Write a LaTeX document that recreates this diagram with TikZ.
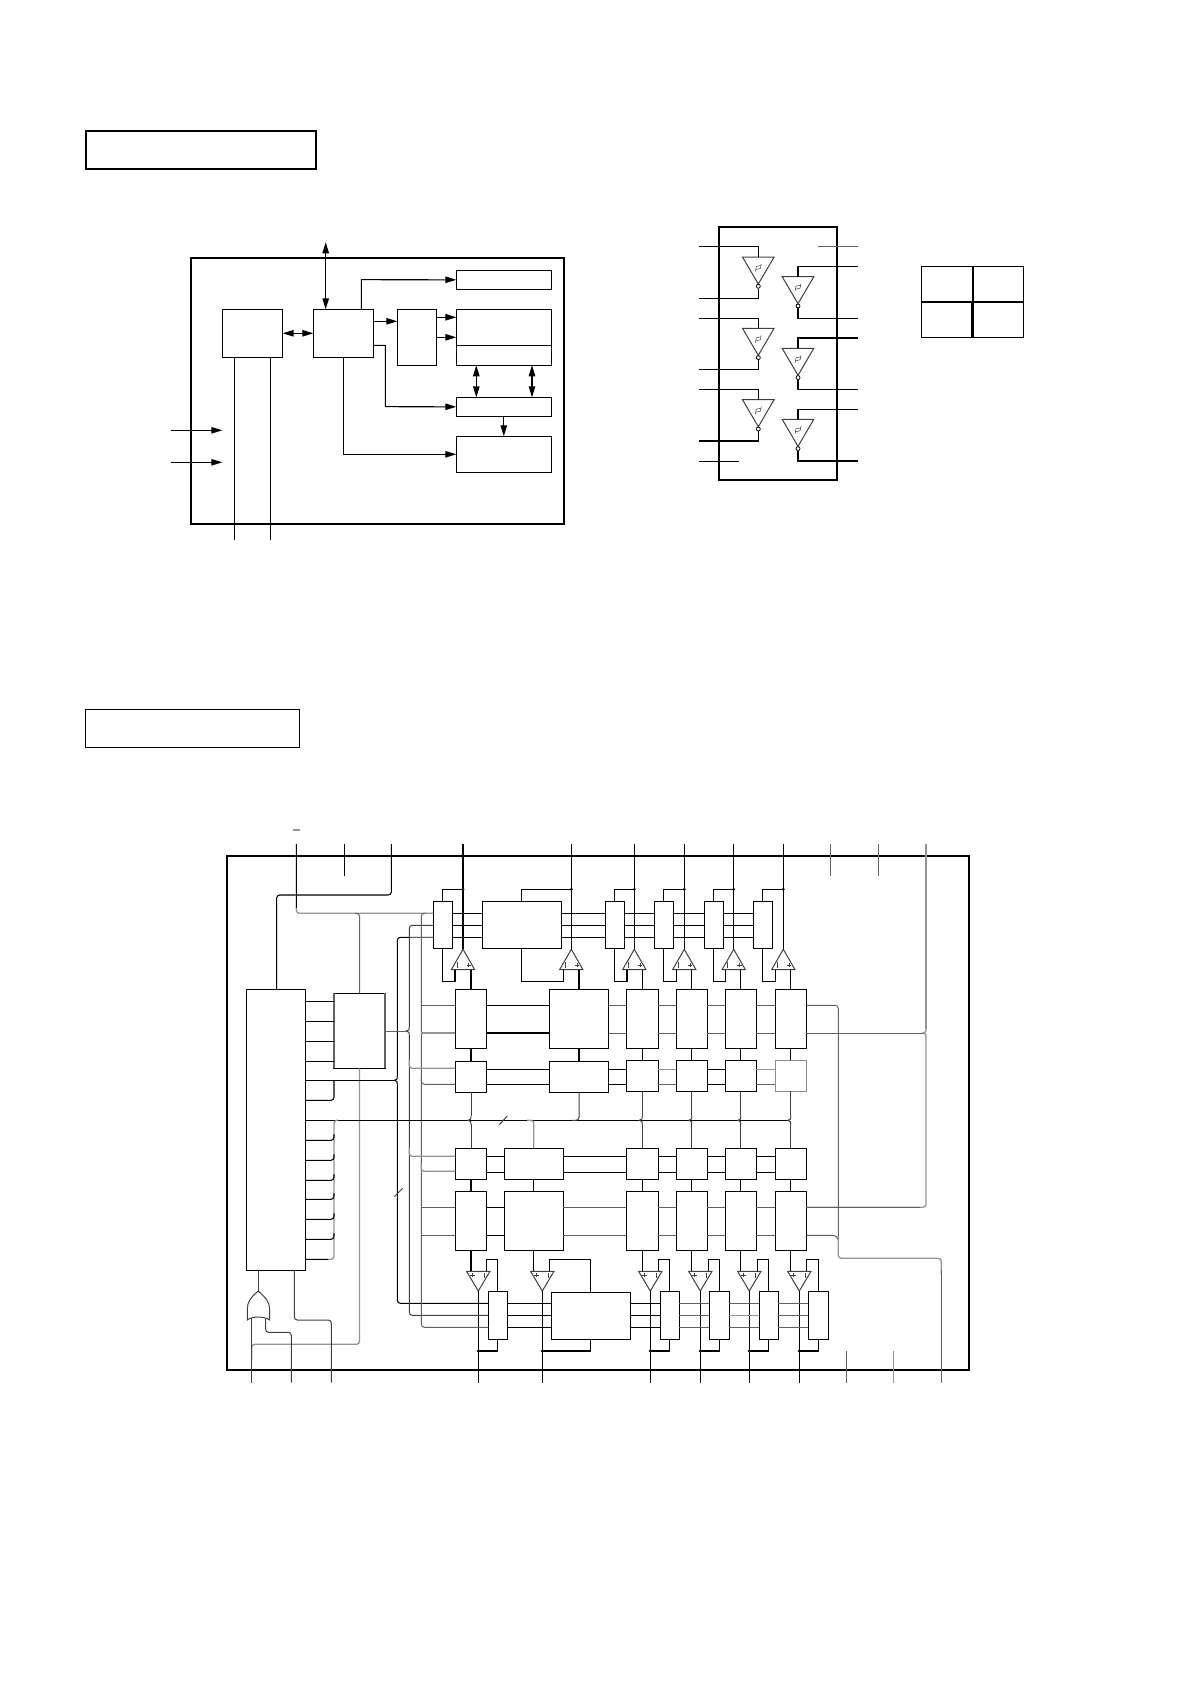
\documentclass[tikz,border=0pt]{standalone}
\usetikzlibrary{arrows.meta,calc}
\tikzset{
  boxs/.style={draw=black,line width=1.05pt,fill=none,inner sep=0pt,outer sep=0pt,rectangle},
  frame/.style={boxs,line width=2pt},
  wire/.style={draw=black,line width=1.05pt},
  dw/.style={draw=black!75,line width=1pt},
  gw/.style={draw=black!62,line width=1pt},
  lw/.style={draw=black!42,line width=1.3pt},
  rw/.style={rounded corners=3pt},
  arr/.style={wire,-{Triangle[length=11pt,width=6.5pt]}},
  biarr/.style={wire,{Triangle[length=11pt,width=6.5pt]}-{Triangle[length=11pt,width=6.5pt]}},
  sym/.style={draw=black!75,line width=0.5pt},
  junct/.style={fill=black},
}
\newcommand\bx[6][]{\node[boxs,#1,minimum width={(#5-#3)*1pt},minimum height={(#6-#4)*1pt}] (#2) at ({(#3+#5)/2},{(#4+#6)/2}) {};}
% inverter: name, tip x, top y, input y, output y, input/output stub x
\newcommand\invg[6]{%
  \coordinate (#1-in) at (#2,#3);
  \coordinate (#1-out) at (#2,#3+31.5);
  \draw[dw] (#1-in) ++(-15.8,0) -- ++(31.6,0) -- ($(#1-in)+(0,27)$) -- cycle;
  \draw[wire,line width=0.8pt] ($(#1-in)+(0,29.3)$) circle (2pt);
  \draw[wire] (#1-in) -- (#2,#4) -- (#6,#4);
  \draw[wire] (#1-out) -- (#2,#5) -- (#6,#5);
  \draw[sym] (#2-3,#3+14.5) -- (#2-2,#3+9.5) -- (#2+2.5,#3+8.5) (#2-2.5,#3+12.5) -- (#2+2,#3+11.5) -- (#2+3,#3+7);
}
% op amps
\newcommand\opup[2]{%
  \coordinate (#1-t) at (#2,949.3);
  \draw[dw] (#2,949.3) -- (#2+11.7,969.7) -- (#2-11.7,969.7) -- cycle;
  \draw[sym] (#2-6,962) -- (#2-6,967.5) (#2+3.5,965) -- (#2+8,965) (#2+5.7,962.7) -- (#2+5.7,967.3);
}
\newcommand\opdn[2]{%
  \coordinate (#1-t) at (#2,1291);
  \draw[dw] (#2,1291) -- (#2+11.7,1271.3) -- (#2-11.7,1271.3) -- cycle;
  \draw[sym] (#2+6,1272.5) -- (#2+6,1277.5) (#2-8,1275) -- (#2-3.5,1275) (#2-5.7,1272.7) -- (#2-5.7,1277.3);
}
% brace tick on a vertical wire, pointing left
\newcommand\brc[3][wire]{\draw[#1] (#2,#3-4) .. controls (#2,#3-1) .. (#2-3,#3) .. controls (#2,#3+1) .. (#2,#3+4);}
\begin{document}
\begin{tikzpicture}[x=1pt,y=-1pt]
\useasboundingbox (0,0) rectangle (1190,1684);
\fill[white] (0,0) rectangle (1190,1684);
% ---------- titles
\bx[line width=1.7pt]{title1}{85.7}{131}{316.2}{169}
\bx[line width=1.2pt]{title2}{85.7}{709.3}{299.3}{747.3}
% ---------- block diagram
\bx[frame]{fA}{190.7}{257.7}{564}{523.7}
\bx{A}{222.3}{309.3}{282.7}{357.3}
\bx{B}{313.3}{309.3}{373.3}{357.3}
\bx{C}{397.3}{309.3}{436.3}{365.3}
\bx{D}{456.3}{270.3}{551.3}{289.3}
\bx{E}{456.3}{309.3}{551.3}{365.3}
\bx{F}{456.3}{397.3}{551.3}{416.3}
\bx{G}{456.3}{436.3}{551.3}{472.3}
\draw[wire] (E.west |- 0,345.3) -- (E.east |- 0,345.3);
\coordinate (btop) at (325.7,242.3);
\draw[biarr] (btop) -- (btop |- B.north);
\draw[arr] (B.north -| 361.3,0) -- (361.3,279.7) -- (D.west);
\draw[biarr] (A.east) -- (B.west);
\draw[arr] (B.east |- 0,321.3) -- (C.west |- 0,321.3);
\draw[arr] (C.east |- 0,317.3) -- (E.west |- 0,317.3);
\draw[arr] (C.east |- 0,337.3) -- (E.west |- 0,337.3);
\draw[arr] (B.east |- 0,345.3) -- (385.3,345.3) -- (385.3,406.7) -- (F.west);
\draw[arr] (B.south) -- (343.3,454.3) -- (G.west);
\draw[biarr] (E.south -| 476.3,0) -- (F.north -| 476.3,0);
\draw[biarr] (E.south -| 532,0) -- (F.north -| 532,0);
\draw[arr] (F.south) -- (G.north);
\coordinate (inA) at (170.7,430.3);
\coordinate (inB) at (170.7,462.3);
\draw[arr] (inA) -- (A.west |- inA);
\draw[arr] (inB) -- (A.west |- inB);
\coordinate (o1) at (234.3,539.7);
\coordinate (o2) at (270.3,539.7);
\draw[wire] (A.south -| o1) -- (o1);
\draw[wire] (A.south -| o2) -- (o2);
% ---------- hex inverter
\bx[frame]{fI}{719}{226.7}{836.7}{479.7}
\invg{i1}{758.3}{257}{246.3}{298.3}{699}
\invg{i2}{758.3}{328.3}{318.3}{369.7}{699}
\invg{i3}{758.3}{399.7}{389.3}{441}{699}
\invg{i4}{798}{276.7}{266.3}{318.3}{858}
\invg{i5}{798}{348.3}{338}{389.3}{858}
\invg{i6}{798}{419.3}{409.3}{461}{858}
\coordinate (s1) at (699,461.3); \coordinate (s1e) at (738.7,461.3);
\coordinate (s2) at (858,246.3); \coordinate (s2e) at (818,246.3);
\draw[wire] (s1) -- (s1e);
\draw[gw] (s2) -- (s2e);
% ---------- truth table
\bx{tab}{921.3}{266.3}{1023.3}{337.3}
\draw[line width=1.7pt] (tab.north -| 972.7,0) -- (972.7,301.7);
\draw[line width=2.8pt] (972.7,301.7) -- (tab.south -| 972.7,0);
\draw[line width=1.6pt] (tab.west |- 0,301.7) -- (tab.east |- 0,301.7);
% ---------- main schematic
\bx[frame]{fM}{227}{855.7}{969.3}{1369.7}
\bx{ctl}{246.3}{989.3}{305.7}{1270.3}
\bx{dec}{334}{993.3}{385}{1068.3}
\draw[gw,line width=1.2pt] (dec.north west) -- (dec.south west) (dec.north east) -- (dec.south east);
% top row
\bx{S1}{433.3}{901.3}{452.3}{948.3}
\bx{S2}{482.3}{901.3}{561.3}{948.3}
\bx{S3}{605.3}{901.3}{624.3}{948.3}
\bx{S4}{654.3}{901.3}{673.3}{948.3}
\bx{S5}{704.3}{901.3}{723.3}{948.3}
\bx{S6}{753.3}{901.3}{772.3}{948.3}
% rows
\bx{R1}{455.3}{989.3}{486.7}{1048.3}
\bx{R2}{549.3}{989.3}{608.7}{1048.3}
\bx{R3}{626.3}{989.3}{658.3}{1048.3}
\bx{R4}{676.3}{989.3}{707.3}{1048.3}
\bx{R5}{725.3}{989.3}{756.3}{1048.3}
\bx{R6}{775.3}{989.3}{806.3}{1048.3}
\bx{Q1}{455.3}{1061.3}{486.7}{1092.3}
\bx{Q2}{549.3}{1061.3}{608.7}{1092.3}
\bx{Q3}{626.3}{1060.3}{658.3}{1091.3}
\bx{Q4}{676.3}{1060.3}{707.3}{1091.3}
\bx{Q5}{725.3}{1060.3}{756.3}{1091.3}
\bx[draw=black!45]{Q6}{775.3}{1060.3}{806.3}{1091.3}
\bx{L1}{455.3}{1148.3}{486.7}{1179.3}
\bx{L2}{504.3}{1148.3}{563.3}{1179.3}
\bx{L3}{626.3}{1148.3}{658.3}{1179.3}
\bx{L4}{676.3}{1148.3}{707.3}{1179.3}
\bx{L5}{725.3}{1148.3}{756.3}{1179.3}
\bx{L6}{775.3}{1148.3}{806.3}{1179.3}
\bx{M1}{455.3}{1191.3}{486.7}{1250.3}
\bx{M2}{504.3}{1191.3}{563.3}{1250.3}
\bx{M3}{626.3}{1191.3}{658.3}{1250.3}
\bx{M4}{676.3}{1191.3}{707.3}{1250.3}
\bx{M5}{725.3}{1191.3}{756.3}{1250.3}
\bx{M6}{775.3}{1191.3}{806.3}{1250.3}
\bx{U1}{488.3}{1291.3}{507.3}{1339.3}
\bx{U2}{551.3}{1292.3}{630.3}{1339.3}
\bx{U3}{660.3}{1291.3}{679.3}{1339.3}
\bx{U4}{709.3}{1291.3}{729.3}{1339.3}
\bx{U5}{759.3}{1291.3}{778.3}{1339.3}
\bx{U6}{808.3}{1291.3}{828.3}{1339.3}
% top op amps + feedback
\foreach \i/\t/\m in {1/463/455,2/571.3/563.3,3/634.3/627,4/684.3/676.3,5/733.7/725.7,6/783.3/775.3}{
  \opup{Ta\i}{\t}
  \draw[wire] (S\i.north) -- (S\i.north |- 0,889.3) -- (\t,889.3);
  \fill[junct] (\t,889.3) circle (1.6pt);
  \draw[wire] (\t,844) -- (Ta\i-t);
  \draw[wire] (S\i.south) -- (S\i.south |- 0,981.3) -- (\m,981.3) -- (\m,969.7);
  \draw[wire] (R\i.north) -- (R\i.north |- 0,969.7);
  \draw[wire] (R\i.south) -- (Q\i.north);
}
% bottom op amps + feedback
\foreach \i/\t/\m in {1/478.3/486.3,2/542.3/549.3,3/650.3/658.7,4/700.3/708.3,5/749.3/757.7,6/799.3/806.3}{
  \opdn{Tb\i}{\t}
  \draw[wire] (\t,1382.7) -- (Tb\i-t);
  \draw[wire] (U\i.north) -- (U\i.north |- 0,1259.3) -- (\m,1259.3) -- (\m,1271.3);
  \draw[wire] (U\i.south) -- (U\i.south |- 0,1351) -- (\t,1351);
  \fill[junct] (\t,1351) circle (1.6pt);
  \draw[wire] (M\i.south) -- (M\i.south |- 0,1271.3);
  \draw[wire] (L\i.south) -- (M\i.north);
}
% three-line buses
\foreach \y in {913.7,925.3,937.3}{
  \draw[wire] (S1.east |- 0,\y) -- (S2.west |- 0,\y) (S2.east |- 0,\y) -- (S3.west |- 0,\y)
    (S3.east |- 0,\y) -- (S4.west |- 0,\y) (S4.east |- 0,\y) -- (S5.west |- 0,\y) (S5.east |- 0,\y) -- (S6.west |- 0,\y);
}
\foreach \y/\s in {1303.3/gw,1315.3/lw,1327.3/gw}{
  \draw[wire] (U1.east |- 0,\y) -- (U2.west |- 0,\y);
  \draw[wire] (U2.east |- 0,\y) -- (U3.west |- 0,\y);
  \draw[gw] (U3.east |- 0,\y) -- (U4.west |- 0,\y);
  \draw[\s] (U4.east |- 0,\y) -- (U5.west |- 0,\y);
  \draw[gw] (U5.east |- 0,\y) -- (U6.west |- 0,\y);
}
% two-line row links
\foreach \a/\b in {1/2,2/3,3/4,4/5,5/6}{
  \draw[gw] (R\a.east |- 0,1005.3) -- (R\b.west |- 0,1005.3);
  \draw[gw] (R\a.east |- 0,1033) -- (R\b.west |- 0,1033);
  \draw[wire] (L\a.east |- 0,1156.3) -- (L\b.west |- 0,1156.3);
  \draw[wire] (L\a.east |- 0,1172.3) -- (L\b.west |- 0,1172.3);
  \draw[gw] (M\a.east |- 0,1207.3) -- (M\b.west |- 0,1207.3);
  \draw[gw] (M\a.east |- 0,1235.3) -- (M\b.west |- 0,1235.3);
}
\draw[wire] (R1.east |- 0,1005.3) -- (R2.west |- 0,1005.3) (R1.east |- 0,1033) -- (R2.west |- 0,1033);
\draw[wire] (M1.east |- 0,1207.3) -- (M2.west |- 0,1207.3) (M1.east |- 0,1235.3) -- (M2.west |- 0,1235.3);
\draw[wire] (Q1.east |- 0,1069.3) -- (Q2.west |- 0,1069.3) (Q1.east |- 0,1084.3) -- (Q2.west |- 0,1084.3);
\draw[wire] (Q2.east |- 0,1069.3) -- (Q3.west |- 0,1069.3) (Q2.east |- 0,1084.3) -- (Q3.west |- 0,1084.3);
\draw[lw] (Q3.east |- 0,1069.3) -- (Q4.west |- 0,1069.3);
\draw[gw] (Q3.east |- 0,1084.3) -- (Q4.west |- 0,1084.3);
\draw[wire] (Q4.east |- 0,1069.3) -- (Q5.west |- 0,1069.3) (Q4.east |- 0,1084.3) -- (Q5.west |- 0,1084.3);
\draw[lw] (Q5.east |- 0,1069.3) -- (Q6.west |- 0,1069.3);
\draw[gw] (Q5.east |- 0,1084.3) -- (Q6.west |- 0,1084.3);
% controller to decoder
\foreach \y in {1001.3,1021.3,1041.3,1061.3}{ \draw[wire] (ctl.east |- 0,\y) -- (dec.west |- 0,\y); }
% outer top wires
\coordinate (p1) at (296.3,844);
\coordinate (p2) at (344.3,844); \coordinate (p2e) at (344.3,875.7);
\coordinate (p3) at (391.3,844);
\coordinate (bar1) at (292.7,830); \coordinate (bar2) at (300,830);
\draw[lw] (bar1) -- (bar2);
\draw[wire] (p2) -- (p2e);
\draw[wire,rw] (p3) -- (391.3,895) -- (276.7,895) -- (ctl.north -| 276.7,0);
\draw[lw,rw] (S1.west |- 0,913.3) -- (296.3,913.3) -- (p1);
\draw[wire] (p1) -- (296.3,908);
\draw[gw,rw] (355,913.3) -- (dec.north |- 0,913.3) -- (dec.north);
\draw[lw,rw] (dec.south) -- (dec.south |- 0,1344.3) -- (251.7,1344.3) -- (251.7,1360);
% three vertical buses
\draw[wire,rw] (S1.west |- 0,937.3) -- (397.3,937.3) -- (397.3,1076.3);
\draw[wire,rw] (397.3,1084.3) -- (397.3,1303.3) -- (U1.west |- 0,1303.3);
\draw[gw] (S1.west |- 0,937.3) -- (410,937.3);
\brc{397.3}{1080.3}
\draw[dw,rw] (S1.west |- 0,925.3) -- (409.3,925.3) -- (409.3,1027);
\draw[dw,rw] (409.3,1035) -- (409.3,1315.3) -- (U1.west |- 0,1315.3);
\brc[dw]{409.3}{1031}
\draw[gw] (dec.east |- 0,1031) -- (406.3,1031);
\draw[gw,rw] (423,913.3) -- (421.3,913.3) -- (421.3,1327.3) -- (U1.west |- 0,1327.3);
% branches into rows
\draw[gw] (421.3,1005.3) -- (R1.west |- 0,1005.3);
\draw[lw] (421.3,1033) -- (R1.west |- 0,1033);
\draw[lw,rw] (409.3,1060) -- (409.3,1068.3) -- (Q1.west |- 0,1068.3);
\draw[gw,rw] (421.3,1076) -- (421.3,1084.3) -- (Q1.west |- 0,1084.3);
\draw[lw,rw] (409.3,1148) -- (409.3,1156.3) -- (L1.west |- 0,1156.3);
\draw[lw,rw] (421.3,1163) -- (421.3,1171.3) -- (L1.west |- 0,1171.3);
\draw[gw] (421.3,1207.3) -- (M1.west |- 0,1207.3);
\draw[gw] (421.3,1235.3) -- (M1.west |- 0,1235.3);
% controller fan-out
\draw[wire] (ctl.east |- 0,1080.3) -- (394.3,1080.3);
\draw[wire,rw] (ctl.east |- 0,1100.3) -- (334,1100.3) -- (334,1080.3);
\draw[wire] (ctl.east |- 0,1120.3) -- (788.3,1120.3);
\draw[lw,rw] (338,1120.3) -- (334,1120.3) -- (334,1259.3) -- (ctl.east |- 0,1259.3);
\foreach \y in {1140.3,1160.3,1180.3,1199.3,1219.3,1239.3}{
  \draw[wire,rw] (ctl.east |- 0,\y) -- (334,\y) -- (334,\y-6);
}
\draw[wire] (ctl.east |- 0,1259.3) -- (328,1259.3);
% lanes onto the data line
\foreach \i/\x in {1/471,3/642.3,4/691.8,5/740.8,6/790.8}{
  \draw[dw] (Q\i.south) -- (Q\i.south |- 0,1116.3);
  \brc[dw]{\x}{1120.3}
  \draw[dw] (L\i.north) -- (L\i.north |- 0,1124.3);
}
\draw[dw,rw] (Q2.south) -- (Q2.south |- 0,1120.3) -- (572,1120.3);
\draw[lw,rw] (527,1120.3) -- (L2.north |- 0,1120.3) -- (L2.north);
% slashes
\coordinate (sa) at (499.3,1124.7); \coordinate (sb) at (507.3,1116);
\coordinate (sc) at (394.3,1196.7); \coordinate (sd) at (402.7,1188.3);
\draw[dw] (sa) -- (sb);
\draw[dw] (sc) -- (sd);
% right side
\coordinate (tr1) at (830.3,844); \coordinate (tr1e) at (830.3,875.7);
\coordinate (tr2) at (878.3,844); \coordinate (tr2e) at (878.3,875.7);
\coordinate (tr3) at (926,844);
\draw[gw] (tr1) -- (tr1e);
\draw[gw] (tr2) -- (tr2e);
\draw[lw] (tr3) -- (926,1029);
\draw[lw,rw] (926,1037) -- (926,1207.3) -- (M6.east |- 0,1207.3);
\draw[gw] (M6.east |- 0,1207.3) -- (920,1207.3);
\brc[lw]{926}{1033}
\draw[gw] (R6.east |- 0,1033) -- (923,1033);
\draw[gw,rw] (R6.east |- 0,1005.3) -- (838.3,1005.3) -- (838.3,1240);
\draw[gw,rw] (M6.east |- 0,1235.3) -- (836,1235.3) -- (838.3,1240);
\draw[lw,rw] (838.3,1236) -- (838.3,1258.3) -- (941.3,1258.3) -- (941.3,1275);
\draw[gw] (941.3,1270) -- (941.3,1382.7);
\coordinate (br1) at (846.3,1350.7); \coordinate (br1e) at (846.3,1382.7);
\coordinate (br2) at (893.7,1350.7); \coordinate (br2e) at (893.7,1382.7);
\draw[gw] (br1) -- (br1e);
\draw[lw] (br2) -- (br2e);
% OR gate and lower left
\coordinate (gt) at (258.3,1291);
\draw[dw] (gt) .. controls (251,1297) and (247.3,1302) .. (247.3,1309) -- (247.3,1320)
  .. controls (252,1316) and (264,1316) .. (269.7,1320) -- (269.7,1309)
  .. controls (269.7,1302) and (265,1297) .. (gt);
\draw[dw] (gt) -- (gt |- ctl.south);
\draw[dw] (251.3,1382.7) -- (251.3,1318);
\draw[dw,rw] (265.7,1318.5) -- (265.7,1332.3) -- (291.3,1332.3) -- (291.3,1382.7);
\draw[dw,rw] (ctl.south -| 294.3,0) -- (294.3,1320) -- (331.3,1320) -- (331.3,1382.7);
\end{tikzpicture}
\end{document}
